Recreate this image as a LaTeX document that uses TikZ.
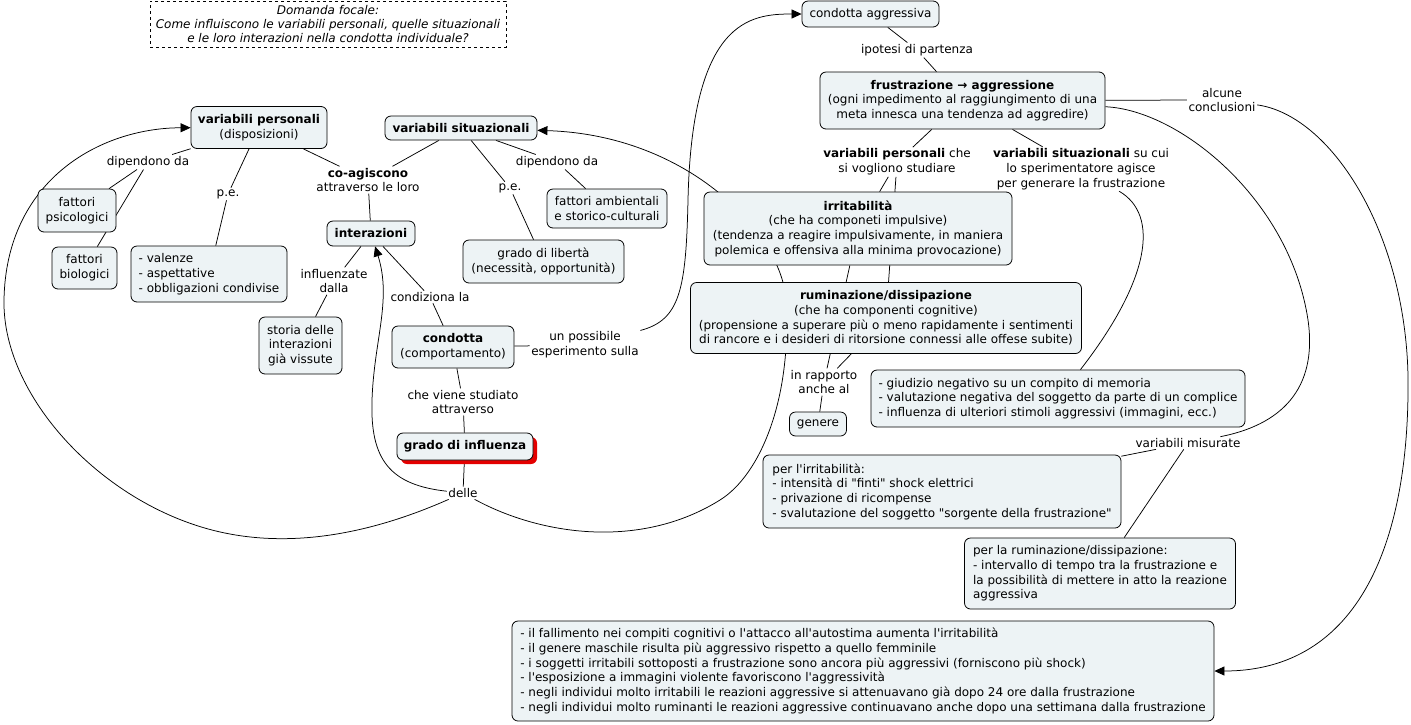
\documentclass[tikz,border=0pt]{standalone}
\usepackage{fontspec}
\setmainfont{DejaVu Sans}[Ligatures=TeXOff]
\usepackage{tikz}
\usetikzlibrary{arrows.meta,shadows}

\definecolor{conceptfill}{RGB}{237,243,245}
\definecolor{shadowred}{RGB}{228,0,0}
\pgfdeclarelayer{background}
\pgfsetlayers{background,main}
\tikzset{size/.style 2 args={minimum width=#1pt,minimum height=#2pt}}

\begin{document}
\begin{tikzpicture}[x=1pt,y=-1pt,
	concept_node/.style={draw,line width=0.8pt,rounded corners=6pt,fill=conceptfill,inner sep=2pt,font=\fontsize{12}{14.7}\selectfont},
	link_label/.style={align=center,inner sep=1.5pt,font=\fontsize{12}{14.7}\selectfont},
	link_arrow/.style={-{Triangle[length=10pt,width=9pt]}}]
	\useasboundingbox (0,0) rectangle (1411,724);

	% focus question
	\node[draw,dashed,line width=0.6pt,size={356}{46},align=center,font=\fontsize{12}{14.2}\selectfont\itshape] (focus) at (328,24)
		{Domanda focale:\\Come influiscono le variabili personali, quelle situazionali\\e le loro interazioni nella condotta individuale?};

	% left part of the map
	\node[concept_node,size={136}{42},align=center] (vp) at (259,127.5) {\textbf{variabili personali}\\(disposizioni)};
	\node[concept_node,size={152}{24},align=center] (vs) at (461,128) {\textbf{variabili situazionali}};
	\node[concept_node,size={78}{43},align=center] (fpsi) at (77,210.5) {fattori\\psicologici};
	\node[concept_node,size={65}{42},align=center] (fbio) at (84.5,268) {fattori\\biologici};
	\node[concept_node,size={156}{56},align=left] (val) at (209,274) {- valenze\\- aspettative\\- obbligazioni condivise};
	\node[concept_node,size={88}{25},align=center] (inter) at (371,233.5) {\textbf{interazioni}};
	\node[concept_node,size={120}{39},align=center] (famb) at (607,208.5) {fattori ambientali\\e storico-culturali};
	\node[concept_node,size={161}{43},align=center] (glib) at (543.5,261.5) {grado di libertà\\(necessità, opportunità)};
	\node[concept_node,size={83}{57},align=center] (storia) at (300.5,345.5) {storia delle\\interazioni\\già vissute};
	\node[concept_node,size={122}{42},align=center] (cond) at (453,347) {\textbf{condotta}\\(comportamento)};
	\node[concept_node,size={136}{27},align=center,drop shadow={fill=shadowred,shadow xshift=4pt,shadow yshift=-4pt,opacity=1}] (ginf) at (465,446.5) {\textbf{grado di influenza}};

	% right part of the map
	\node[concept_node,size={137}{26},align=center] (cagg) at (870.5,14) {condotta aggressiva};
	\node[concept_node,size={285}{57},align=center] (frust) at (962.5,100.5)
		{\textbf{frustrazione → aggressione}\\(ogni impedimento al raggiungimento di una\\meta innesca una tendenza ad aggredire)};
	\node[concept_node,size={308}{73},align=center] (irr) at (858,228.5)
		{\textbf{irritabilità}\\(che ha componeti impulsive)\\(tendenza a reagire impulsivamente, in maniera\\polemica e offensiva alla minima provocazione)};
	\node[concept_node,size={391}{71},align=center] (rum) at (886,318)
		{\textbf{ruminazione/dissipazione}\\(che ha componenti cognitive)\\(propensione a superare più o meno rapidamente i sentimenti\\di rancore e i desideri di ritorsione connessi alle offese subite)};
	\node[concept_node,size={57}{24},align=center] (gen) at (818,424) {genere};
	\node[concept_node,size={374}{57},align=left] (giud) at (1058,398.5)
		{- giudizio negativo su un compito di memoria\\- valutazione negativa del soggetto da parte di un complice\\- influenza di ulteriori stimoli aggressivi (immagini, ecc.)};
	\node[concept_node,size={358}{73},align=left] (pirr) at (942,491.5)
		{per l'irritabilità:\\- intensità di "finti" shock elettrici\\- privazione di ricompense\\- svalutazione del soggetto "sorgente della frustrazione"};
	\node[concept_node,size={271}{71},align=left] (prum) at (1100,573.5)
		{per la ruminazione/dissipazione:\\- intervallo di tempo tra la frustrazione e\\la possibilità di mettere in atto la reazione\\aggressiva};
	\node[concept_node,size={702}{100},align=left] (concl) at (863,671)
		{- il fallimento nei compiti cognitivi o l'attacco all'autostima aumenta l'irritabilità\\
		- il genere maschile risulta più aggressivo rispetto a quello femminile\\
		- i soggetti irritabili sottoposti a frustrazione sono ancora più aggressivi (forniscono più shock)\\
		- l'esposizione a immagini violente favoriscono l'aggressività\\
		- negli individui molto irritabili le reazioni aggressive si attenuavano già dopo 24 ore dalla frustrazione\\
		- negli individui molto ruminanti le reazioni aggressive continuavano anche dopo una settimana dalla frustrazione};

	% linking phrases
	\node[link_label] (ldip1) at (148,162) {dipendono da};
	\node[link_label] (lpe1) at (228,194) {p.e.};
	\node[link_label] (lcoag) at (368,180) {\textbf{co-agiscono}\\attraverso le loro};
	\node[link_label] (lpe2) at (510,188) {p.e.};
	\node[link_label] (ldip2) at (557,162) {dipendono da};
	\node[link_label] (linf) at (334,281) {influenzate\\dalla};
	\node[link_label] (lcond) at (430,297) {condiziona la};
	\node[link_label] (lesp) at (585,345) {un possibile\\esperimento sulla};
	\node[link_label] (lstud) at (463,402) {che viene studiato\\attraverso};
	\node[link_label] (ldelle) at (463,493) {delle};
	\node[link_label] (lip) at (917,50) {ipotesi di partenza};
	\node[link_label] (lalc) at (1222,100) {alcune\\conclusioni};
	\node[link_label] (lvps) at (897,162) {\textbf{variabili personali} che\\si vogliono studiare};
	\node[link_label] (lvss) at (1081,169) {\textbf{variabili situazionali} su cui\\lo sperimentatore agisce\\per generare la frustrazione};
	\node[link_label] (lrap) at (824,382) {in rapporto\\anche al};
	\node[link_label] (lmis) at (1188,443) {variabili misurate};

	\begin{pgfonlayer}{background}
	\begin{scope}[line width=0.75pt]
	\draw (vp) -- (ldip1);
	\draw (ldip1) -- (fpsi);
	\draw (ldip1) -- (fbio);
	\draw (vp) -- (lpe1);
	\draw (lpe1) -- (val);
	\draw (vp) -- (lcoag);
	\draw (vs) -- (lcoag);
	\draw (lcoag) -- (inter);
	\draw (vs) -- (lpe2);
	\draw (lpe2) -- (glib);
	\draw (vs) -- (ldip2);
	\draw (ldip2) -- (famb);
	\draw (inter) -- (linf);
	\draw (linf) -- (storia);
	\draw (inter) -- (lcond);
	\draw (lcond) -- (cond);
	\draw (cond) -- (lstud);
	\draw (lstud) -- (ginf);
	\draw (ginf) -- (ldelle);
	\draw (cond) -- (lesp);
	\draw[link_arrow] (lesp) .. controls (680,320) and (686,290) .. (688,200)
		.. controls (692,20) and (750,14) .. (cagg);
	\draw[link_arrow] (ldelle) .. controls (375,532) and (300,547) .. (230,534)
		.. controls (110,512) and (2,400) .. (4,300)
		.. controls (6,180) and (100,128) .. (vp);
	\draw[link_arrow] (ldelle) .. controls (390,485) and (370,460) .. (372,400)
		.. controls (374,340) and (392,300) .. (inter);
	\draw[link_arrow] (ldelle) .. controls (540,535) and (640,550) .. (720,500)
		.. controls (760,475) and (792,400) .. (786,300)
		.. controls (782,235) and (690,135) .. (vs);
	\draw (cagg) -- (lip);
	\draw (lip) -- (frust);
	\draw (frust) -- (lvps);
	\draw (lvps) -- (irr);
	\draw (lvps) -- (rum);
	\draw (irr) -- (lrap);
	\draw (rum) -- (lrap);
	\draw (lrap) -- (gen);
	\draw (frust) -- (lvss);
	\draw (lvss) .. controls (1160,215) and (1150,280) .. (giud);
	\draw (frust) -- (lalc);
	\draw[link_arrow] (lalc) .. controls (1330,115) and (1405,230) .. (1408,376)
		.. controls (1410,540) and (1360,671) .. (concl);
	\draw (frust) .. controls (1180,110) and (1290,200) .. (1308,320)
		.. controls (1318,390) and (1280,425) .. (lmis);
	\draw (lmis) -- (pirr);
	\draw (lmis) -- (prum);
	\end{scope}
	\end{pgfonlayer}
\end{tikzpicture}
\end{document}
